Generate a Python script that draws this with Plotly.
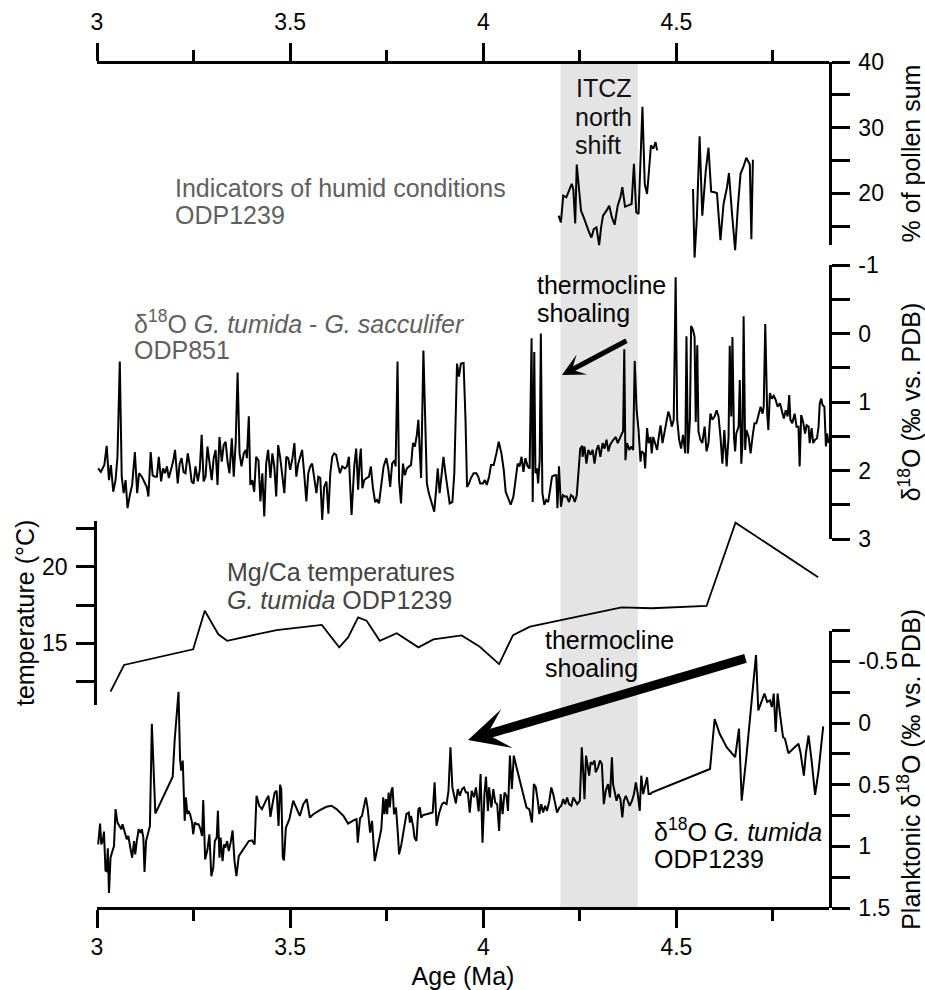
import plotly.graph_objects as go

# ---------------- data ----------------
band = [4.2, 4.4]  # shaded interval (Ma)

pollen_age = [4.195, 4.201, 4.207, 4.215, 4.222, 4.229, 4.233, 4.238, 4.242, 4.247, 4.253, 4.260,
              4.267, 4.274, 4.280, 4.286, 4.293, 4.300, 4.305, 4.310, 4.319, 4.326, 4.333, 4.340,
              4.348, 4.355, 4.360, 4.367, 4.374, 4.384, 4.390, 4.396, 4.402, 4.407, 4.412, 4.418,
              4.424, 4.429, 4.434, 4.440, 4.446, 4.450, None,
              4.543, 4.547, 4.553, 4.560, 4.567, 4.576, 4.583, 4.590, 4.599, 4.605, 4.614, 4.622,
              4.631, 4.636, 4.644, 4.652, 4.659, 4.666, 4.673, 4.681, 4.690, 4.694, 4.698]
pollen_pct = [16.64, 15.62, 19.69, 19.44, 20.45, 21.47, 20.71, 15.47, 24.42, 20.71, 17.40, 16.38,
              15.11, 14.09, 13.33, 14.60, 14.85, 12.16, 14.85, 16.64, 17.40, 18.16, 16.38, 15.26,
              18.16, 19.44, 20.96, 18.01, 18.16, 18.42, 24.52, 17.15, 16.89, 24.01, 33.18, 21.47,
              19.94, 23.51, 27.32, 26.81, 27.83, 26.56, None,
              20.71, 10.27, 16.38, 28.70, 16.64, 23.51, 26.97, 20.30, 20.20, 20.05, 12.92, 18.42,
              20.96, 23.10, 16.89, 11.39, 17.91, 23.00, 24.01, 25.44, 24.42, 13.07, 25.14]

age_851 = [3.003, 3.010, 3.019, 3.025, 3.031, 3.036, 3.042, 3.048, 3.053, 3.059, 3.064, 3.069,
           3.074, 3.079, 3.085, 3.091, 3.098, 3.104, 3.109, 3.116, 3.122, 3.129, 3.133, 3.139,
           3.144, 3.150, 3.155, 3.160, 3.166, 3.171, 3.176, 3.181, 3.186, 3.192, 3.197, 3.202,
           3.209, 3.214, 3.219, 3.224, 3.229, 3.235, 3.240, 3.245, 3.250, 3.255, 3.261, 3.266,
           3.271, 3.276, 3.281, 3.286, 3.292, 3.297, 3.302, 3.307, 3.312, 3.317, 3.323, 3.328,
           3.333, 3.338, 3.343, 3.349, 3.354, 3.359, 3.364, 3.369, 3.374, 3.380, 3.385, 3.388,
           3.393, 3.397, 3.402, 3.407, 3.412, 3.418, 3.423, 3.428, 3.433, 3.438, 3.443, 3.449,
           3.454, 3.459, 3.464, 3.469, 3.474, 3.480, 3.485, 3.490, 3.495, 3.500, 3.506, 3.511,
           3.516, 3.521, 3.526, 3.531, 3.537, 3.542, 3.547, 3.552, 3.557, 3.562, 3.568, 3.573,
           3.578, 3.583, 3.588, 3.594, 3.599, 3.604, 3.609, 3.614, 3.619, 3.625, 3.629,
           3.635, 3.642, 3.647, 3.652, 3.659, 3.666, 3.671, 3.676, 3.680, 3.683, 3.687, 3.692,
           3.698, 3.704, 3.709, 3.714, 3.720, 3.725, 3.730, 3.737, 3.742, 3.749, 3.754, 3.759,
           3.764, 3.770, 3.773, 3.778, 3.782, 3.787, 3.792, 3.797, 3.802, 3.808, 3.813, 3.818,
           3.823, 3.828, 3.832, 3.835, 3.839, 3.845, 3.849, 3.854, 3.859, 3.866, 3.873, 3.878,
           3.882, 3.887, 3.892, 3.897, 3.902, 3.908, 3.913, 3.920, 3.925, 3.932, 3.937, 3.942,
           3.949, 3.954, 3.958, 3.963, 3.968, 3.975, 3.982, 3.987, 3.992, 3.999, 4.004, 4.009,
           4.015, 4.020, 4.027, 4.034, 4.040, 4.047, 4.053, 4.058, 4.065, 4.071, 4.078, 4.084,
           4.089, 4.094, 4.099, 4.104, 4.109, 4.115, 4.120, 4.125, 4.128, 4.132, 4.135, 4.139,
           4.142, 4.146, 4.149, 4.153, 4.158, 4.163, 4.168, 4.173, 4.178, 4.184, 4.189, 4.192,
           4.196, 4.201, 4.206, 4.211, 4.216, 4.222, 4.227, 4.232, 4.237, 4.242, 4.246, 4.251,
           4.256, 4.257, 4.262, 4.267, 4.272, 4.278, 4.283, 4.288, 4.293, 4.298, 4.303, 4.309,
           4.314, 4.319, 4.324, 4.328, 4.333, 4.338, 4.343, 4.348, 4.354, 4.359, 4.362, 4.365,
           4.368, 4.372, 4.378, 4.383, 4.388, 4.392, 4.397, 4.402, 4.407, 4.410, 4.416, 4.419,
           4.424, 4.428, 4.433, 4.436, 4.440, 4.445, 4.450, 4.455, 4.459, 4.464, 4.469, 4.474,
           4.479, 4.483, 4.488, 4.493, 4.498, 4.502, 4.507, 4.512, 4.517, 4.523, 4.526, 4.530,
           4.535, 4.538, 4.543, 4.547, 4.550, 4.554, 4.557, 4.562, 4.567, 4.573, 4.578, 4.583,
           4.588, 4.593, 4.599, 4.604, 4.609, 4.614, 4.619, 4.624, 4.630, 4.635, 4.638, 4.642,
           4.645, 4.649, 4.652, 4.655, 4.661, 4.664, 4.668, 4.671, 4.674, 4.678, 4.681, 4.687,
           4.692, 4.697, 4.702, 4.707, 4.712, 4.718, 4.723, 4.726, 4.730, 4.735, 4.738, 4.742,
           4.747, 4.752, 4.757, 4.762, 4.768, 4.773, 4.778, 4.783, 4.788, 4.792, 4.795, 4.800,
           4.806, 4.811, 4.816, 4.819, 4.823, 4.828, 4.833, 4.837, 4.842, 4.845, 4.850, 4.854,
           4.859, 4.864, 4.868, 4.871, 4.875, 4.878, 4.883, 4.887, 4.890, 4.894]
d18o_851 = [1.97, 2.02, 1.92, 1.64, 2.14, 1.92, 2.31, 2.14, 1.80, 0.41, 2.09, 2.33,
            2.14, 2.55, 2.36, 2.21, 1.73, 2.33, 2.04, 2.09, 2.16, 2.24, 2.38, 1.73,
            2.07, 2.09, 2.09, 1.80, 2.16, 1.97, 2.04, 1.94, 2.11, 1.99, 1.87, 1.70,
            2.19, 1.90, 1.82, 2.02, 2.04, 1.75, 1.92, 2.16, 2.19, 1.94, 2.16, 1.99,
            1.48, 2.16, 2.09, 1.65, 1.90, 2.14, 1.82, 1.70, 2.21, 1.51, 1.87, 1.63,
            1.58, 1.87, 2.04, 1.53, 2.09, 1.60, 0.57, 1.75, 1.94, 1.75, 1.70, 1.82,
            1.21, 2.21, 2.14, 2.31, 1.80, 1.85, 2.45, 2.04, 2.67, 1.90, 1.70, 2.11,
            1.75, 1.94, 2.38, 1.63, 1.80, 2.11, 2.33, 1.80, 1.82, 1.99, 1.82, 1.60,
            2.09, 1.90, 1.80, 1.70, 2.09, 2.45, 2.04, 1.94, 1.90, 2.09, 2.33, 2.09,
            2.11, 2.72, 2.24, 2.16, 2.63, 2.04, 1.80, 1.75, 1.77, 1.94, 2.04,
            1.94, 1.97, 1.94, 1.80, 2.65, 1.94, 1.68, 2.28, 1.85, 1.68, 2.26, 2.14,
            2.11, 2.09, 1.94, 2.24, 2.46, 2.43, 2.48, 2.14, 1.94, 1.82, 1.97, 2.24,
            1.90, 1.85, 1.94, 0.41, 2.14, 2.48, 1.90, 2.07, 1.97, 1.94, 1.92, 1.60,
            1.65, 1.48, 1.26, 1.65, 2.11, 0.25, 1.26, 2.19, 2.33, 2.48, 2.60, 2.28,
            1.97, 2.33, 2.09, 1.80, 2.04, 2.33, 2.48, 2.46, 2.04, 0.44, 0.63, 0.44,
            0.43, 1.26, 2.24, 2.19, 2.11, 2.04, 2.04, 2.09, 2.19, 2.19, 2.14, 2.21,
            2.09, 1.92, 1.92, 1.75, 1.58, 1.75, 1.99, 2.31, 2.43, 2.50, 2.38, 2.09,
            1.90, 1.94, 1.80, 2.02, 1.82, 1.94, 1.97, 0.07, 2.46, 0.27, 2.04, 1.97,
            2.19, 1.85, 0.00, 2.33, 2.50, 2.43, 2.46, 2.28, 2.09, 2.07, 2.07, 2.55,
            1.94, 2.53, 2.36, 2.38, 2.38, 2.46, 2.36, 2.38, 2.46, 2.36, 2.04, 1.68,
            1.64, 1.80, 1.65, 1.90, 1.70, 1.77, 1.70, 1.90, 1.70, 1.63, 1.80, 1.60,
            1.68, 1.55, 1.72, 1.63, 1.58, 1.55, 1.51, 1.60, 1.51, 1.46, 1.43, 0.23,
            1.85, 1.60, 1.70, 1.65, 1.70, 0.40, 1.12, 1.41, 1.87, 1.72, 1.75, 1.97,
            1.38, 1.60, 1.51, 1.75, 1.51, 1.60, 1.70, 1.48, 1.34, 1.60, 1.46, 1.31,
            1.14, 1.21, 1.36, 1.26, -0.82, 1.26, 1.55, 1.68, 1.48, 1.75, 0.04, 1.75,
            1.26, -0.11, -0.05, 0.05, 1.29, 0.17, 1.43, 1.55, 1.60, 1.36, 1.72, 1.60,
            1.17, 1.26, 1.21, 1.12, 1.21, 1.51, 1.90, 1.41, 1.94, 1.51, 0.18, 1.21,
            0.05, 1.51, 1.72, 1.46, 1.36, 0.68, 1.90, 1.60, -0.25, 1.70, 1.41, 1.51,
            1.75, 1.51, 1.31, 1.31, 1.21, 1.07, 1.17, 1.07, -0.14, 1.17, 1.41, 0.87,
            0.95, 0.91, 0.97, 1.07, 1.02, 1.12, 1.24, 1.12, 1.21, 0.90, 1.26, 1.31,
            1.17, 1.36, 1.36, 1.94, 1.19, 1.29, 1.46, 1.34, 1.36, 1.60, 1.38, 1.60,
            1.55, 1.53, 1.36, 1.02, 0.95, 1.04, 1.07, 1.65, 1.46, 1.60]

age_mgca = [3.035, 3.070, 3.249, 3.279, 3.314, 3.337, 3.465, 3.582, 3.627, 3.650, 3.676, 3.698,
            3.732, 3.776, 3.832, 3.871, 3.944, 3.991, 4.041, 4.077, 4.121, 4.358, 4.436, 4.578,
            4.653, 4.867]
temp_mgca = [11.85, 13.59, 14.61, 17.13, 15.59, 15.17, 15.87, 16.20, 14.74, 15.39, 16.70, 16.48,
             15.17, 15.66, 14.74, 15.26, 15.52, 14.78, 13.65, 15.54, 16.09, 17.35, 17.29, 17.44,
             22.87, 19.31]

age_1239 = [3.003, 3.008, 3.011, 3.015, 3.018, 3.022, 3.025, 3.028, 3.031, 3.035, 3.040, 3.044,
            3.048, 3.053, 3.058, 3.063, 3.066, 3.072, 3.077, 3.081, 3.085, 3.091, 3.096, 3.099,
            3.103, 3.108, 3.113, 3.116, 3.120, 3.123, 3.127, 3.132, 3.137, 3.142, 3.151, 3.196,
            3.201, 3.211, 3.215, 3.218, 3.222, 3.227, 3.230, 3.234, 3.237, 3.241, 3.246, 3.249,
            3.253, 3.258, 3.263, 3.268, 3.272, 3.275, 3.280, 3.286, 3.291, 3.296, 3.301, 3.305,
            3.310, 3.313, 3.317, 3.320, 3.325, 3.329, 3.332, 3.337, 3.341, 3.346, 3.351, 3.356,
            3.361, 3.367, 3.375, 3.384, 3.393, 3.401, 3.408, 3.413, 3.420, 3.427, 3.434, 3.439,
            3.444, 3.449, 3.455, 3.460, 3.465, 3.470, 3.474, 3.477, 3.481, 3.484, 3.489, 3.498,
            3.508, 3.517, 3.525, 3.534, 3.543, 3.551, 3.560, 3.577, 3.594, 3.607, 3.620, 3.638,
            3.650, 3.665, 3.672, 3.675, 3.681, 3.686, 3.691, 3.696, 3.701, 3.707, 3.712, 3.719,
            3.727, 3.736, 3.741, 3.744, 3.748, 3.751, 3.755, 3.758, 3.762, 3.765, 3.769, 3.774,
            3.779, 3.782, 3.788, 3.793, 3.798, 3.801, 3.807, 3.810, 3.813, 3.819, 3.822, 3.827,
            3.832, 3.836, 3.839, 3.845, 3.853, 3.862, 3.869, 3.874, 3.879, 3.886, 3.893, 3.898,
            3.905, 3.910, 3.915, 3.920, 3.926, 3.929, 3.934, 3.939, 3.945, 3.950, 3.955, 3.960,
            3.965, 3.970, 3.976, 3.981, 3.988, 3.993, 3.998, 4.003, 4.007, 4.012, 4.015, 4.021,
            4.026, 4.031, 4.036, 4.041, 4.045, 4.050, 4.055, 4.060, 4.064, 4.069, 4.074, 4.079,
            4.086, 4.095, 4.103, 4.112, 4.119, 4.126, 4.131, 4.136, 4.141, 4.145, 4.150, 4.155,
            4.160, 4.165, 4.171, 4.176, 4.181, 4.186, 4.191, 4.197, 4.202, 4.207, 4.212, 4.217,
            4.222, 4.228, 4.233, 4.238, 4.243, 4.250, 4.255, 4.259, 4.262, 4.266, 4.271, 4.274,
            4.278, 4.283, 4.288, 4.291, 4.297, 4.302, 4.307, 4.312, 4.317, 4.323, 4.328, 4.333,
            4.336, 4.342, 4.345, 4.350, 4.355, 4.360, 4.364, 4.369, 4.374, 4.379, 4.385, 4.390,
            4.395, 4.400, 4.405, 4.409, 4.414, 4.419, 4.424, 4.428, 4.433, 4.436, 4.587, 4.599,
            4.612, 4.630, 4.652, 4.662, 4.669, 4.681, 4.693, 4.706, 4.712, 4.719, 4.728, 4.735,
            4.742, 4.747, 4.752, 4.757, 4.762, 4.768, 4.776, 4.781, 4.790, 4.802, 4.816, 4.821,
            4.830, 4.835, 4.842, 4.850, 4.859, 4.868, 4.873, 4.880]
d18o_1239 = [0.984, 0.815, 0.984, 0.957, 0.880, 1.196, 1.201, 1.016, 1.378, 1.092, 1.038, 0.997,
             0.698, 0.807, 0.834, 0.861, 0.821, 0.889, 0.943, 0.916, 0.984, 1.092, 0.957, 1.065,
             0.957, 0.861, 0.889, 0.861, 0.929, 1.207, 0.957, 0.889, 0.834, 0.005, 0.734, 0.435,
             0.141, -0.253, 0.291, 0.386, 0.304, 0.793, 0.603, 0.739, 0.712, 0.739, 0.807, 0.902,
             0.807, 0.821, 0.821, 0.861, 0.916, 0.625, 1.106, 1.024, 0.902, 1.242, 1.174, 0.957,
             0.929, 0.712, 1.092, 0.929, 1.120, 0.984, 1.011, 0.957, 1.038, 0.970, 0.870, 1.120,
             1.242, 1.079, 1.038, 0.997, 0.957, 0.951, 0.984, 0.590, 0.671, 0.698, 0.644, 0.617,
             0.590, 0.761, 0.644, 0.563, 0.549, 0.834, 0.500, 0.535, 1.092, 1.114, 0.848, 0.780,
             0.630, 0.698, 0.753, 0.658, 0.617, 0.766, 0.739, 0.707, 0.679, 0.671, 0.698, 0.753,
             0.815, 0.788, 0.780, 0.970, 0.772, 0.753, 0.663, 0.603, 0.698, 0.889, 0.793, 1.120,
             0.997, 0.861, 0.603, 0.739, 0.617, 0.739, 0.563, 0.685, 0.549, 0.522, 0.739, 0.685,
             0.902, 1.065, 0.984, 0.889, 0.821, 0.739, 0.726, 0.807, 0.753, 0.848, 0.929, 0.957,
             0.698, 0.685, 0.766, 0.745, 0.739, 0.734, 0.726, 0.481, 0.834, 0.726, 0.658, 0.644,
             0.658, 0.549, 0.196, 0.522, 0.630, 0.652, 0.535, 0.590, 0.535, 0.522, 0.563, 0.563,
             0.726, 0.549, 0.603, 0.522, 0.717, 0.413, 0.970, 0.576, 0.435, 0.712, 0.522, 0.685,
             0.535, 0.644, 0.658, 0.875, 0.576, 0.739, 0.563, 0.590, 0.712, 0.264, 0.535, 0.264,
             0.359, 0.467, 0.576, 0.685, 0.698, 0.807, 0.495, 0.522, 0.630, 0.739, 0.658, 0.726,
             0.671, 0.712, 0.630, 0.522, 0.576, 0.658, 0.726, 0.685, 0.671, 0.617, 0.658, 0.603,
             0.658, 0.671, 0.603, 0.630, 0.658, 0.630, 0.196, 0.413, 0.617, 0.264, 0.359, 0.427,
             0.318, 0.332, 0.304, 0.399, 0.359, 0.304, 0.332, 0.658, 0.549, 0.495, 0.603, 0.277,
             0.495, 0.603, 0.630, 0.576, 0.617, 0.766, 0.630, 0.590, 0.630, 0.671, 0.630, 0.576,
             0.481, 0.576, 0.712, 0.427, 0.576, 0.495, 0.440, 0.576, 0.576, 0.563, 0.372, -0.033,
             0.087, 0.196, 0.277, 0.046, 0.630, 0.277, -0.130, -0.552, -0.103, -0.171, -0.239, -0.171,
             -0.185, -0.130, -0.239, 0.073, -0.239, -0.076, 0.114, 0.128, 0.245, 0.209, 0.168, 0.236,
             0.427, 0.250, 0.101, 0.304, 0.582, 0.386, 0.223, 0.027]

age_ticks = [3, 3.5, 4, 4.5]
age_ticktext = ["3", "3.5", "4", "4.5"]
age_minor = [3.25, 3.75, 4.25, 4.75]
age_range = [3, 4.895]

pollen_ticks = [15, 20, 25, 30, 35, 40]
pollen_ticktext = ["", "20", "", "30", "", "40"]
d851_ticks = [-1, -0.5, 0, 0.5, 1, 1.5, 2, 2.5, 3]
d851_ticktext = ["-1", "", "0", "", "1", "", "2", "", "3"]
temp_ticks = [12.5, 15, 17.5, 20, 22.5]
temp_ticktext = ["", "15", "", "20", ""]
d1239_ticks = [-0.75, -0.5, -0.25, 0, 0.25, 0.5, 0.75, 1, 1.25, 1.5]
d1239_ticktext = ["", "-0.5", "", "0", "", "0.5", "", "1", "", "1.5"]

# ---------------- geometry ----------------
W, H = 925, 990
ML, MR, MT, MB = 97, 96, 62, 82
PW, PH = W - ML - MR, H - MT - MB


def fx(px):
    return (px - ML) / PW


def fy(py):
    return (MT + PH - py) / PH


FONT = "Arial"
GRAY = "#5f5f5f"
LW = 2.5

axis_common = dict(showline=True, linecolor="black", linewidth=LW, ticks="outside", ticklen=18,
                   tickwidth=LW, tickcolor="black", showgrid=False, zeroline=False,
                   tickfont=dict(family=FONT, size=23, color="black"), fixedrange=True,
                   tickmode="array")

fig = go.Figure()
line = dict(color="black", width=2)

# transparent copies that make the visible pollen axis and the top age axis exist
fig.add_trace(go.Scatter(x=pollen_age, y=pollen_pct, xaxis="x", yaxis="y", mode="lines",
                         line=dict(color="rgba(0,0,0,0)", width=1), hoverinfo="skip",
                         showlegend=False))
fig.add_trace(go.Scatter(x=pollen_age, y=pollen_pct, xaxis="x2", yaxis="y", mode="lines",
                         line=dict(color="rgba(0,0,0,0)", width=1), hoverinfo="skip",
                         showlegend=False))
# visible series
fig.add_trace(go.Scatter(x=pollen_age, y=pollen_pct, xaxis="x", yaxis="y5", mode="lines",
                         line=line, connectgaps=False, showlegend=False))
fig.add_trace(go.Scatter(x=age_851, y=d18o_851, xaxis="x", yaxis="y2", mode="lines",
                         line=line, showlegend=False))
fig.add_trace(go.Scatter(x=age_mgca, y=temp_mgca, xaxis="x", yaxis="y3", mode="lines",
                         line=dict(color="black", width=1.8), showlegend=False))
fig.add_trace(go.Scatter(x=age_1239, y=d18o_1239, xaxis="x", yaxis="y4", mode="lines",
                         line=line, showlegend=False))

xcommon = dict(axis_common, range=age_range, tickvals=age_ticks, ticktext=age_ticktext,
               minor=dict(tickvals=age_minor, ticklen=11, tickwidth=LW, tickcolor="black",
                          ticks="outside", showgrid=False))

title_font = dict(family=FONT, size=25, color="black")

fig.update_layout(
    width=W, height=H,
    margin=dict(l=ML, r=MR, t=MT, b=MB, autoexpand=False),
    paper_bgcolor="white", plot_bgcolor="rgba(0,0,0,0)",
    template="none",
    font=dict(family=FONT, color="black"),
    showlegend=False,
    xaxis=dict(xcommon, domain=[0, 1], anchor="free", position=0, side="bottom",
               ticklabelstandoff=0,
               title=dict(text="Age (Ma)", font=title_font, standoff=14)),
    xaxis2=dict(xcommon, domain=[0, 1], anchor="free", position=1, side="top",
                overlaying="x", matches="x", ticklabelstandoff=4),
    yaxis=dict(axis_common, domain=[fy(245), 1], range=[12.14, 40], anchor="x", side="right",
               tickvals=pollen_ticks, ticktext=pollen_ticktext, ticklabelstandoff=4,
               title=dict(text="% of pollen sum", font=title_font, standoff=24)),
    yaxis5=dict(domain=[fy(262), 1], range=[9.60, 40], anchor="x", visible=False,
                fixedrange=True),
    yaxis2=dict(axis_common, domain=[fy(539), fy(265)], range=[3, -1], anchor="x", side="right",
                tickvals=d851_ticks, ticktext=d851_ticktext, ticklabelstandoff=4,
                title=dict(text="δ<sup>18</sup>O (‰ vs. PDB)", font=title_font, standoff=28)),
    yaxis3=dict(axis_common, domain=[fy(705), fy(520.7)], range=[10.98, 23.0], anchor="x",
                side="left", tickvals=temp_ticks, ticktext=temp_ticktext, ticklabelstandoff=4,
                title=dict(text="temperature (°C)", font=title_font, standoff=1)),
    yaxis4=dict(axis_common, domain=[0, fy(630.6)], range=[1.5, -0.75], anchor="x", side="right",
                tickvals=d1239_ticks, ticktext=d1239_ticktext, ticklabelstandoff=4,
                title=dict(text="Planktonic δ<sup>18</sup>O (‰ vs. PDB)", font=title_font,
                           standoff=10)),
    shapes=[dict(type="rect", xref="x", yref="paper", x0=band[0], x1=band[1], y0=0, y1=1,
                 fillcolor="#e4e4e4", line=dict(width=0), layer="below")],
)

# ---------------- text labels ----------------
labels = [
    ("Indicators of humid conditions", 173, 188, GRAY),
    ("ODP1239", 173, 215, GRAY),
    ("ITCZ", 574, 88, "#111111"),
    ("north", 573, 117, "#111111"),
    ("shift", 573, 145, "#111111"),
    ("δ<sup>18</sup>O <i>G. tumida</i> - <i>G. sacculifer</i>", 132, 322, GRAY),
    ("ODP851", 132, 350, GRAY),
    ("thermocline", 535, 285, "black"),
    ("shoaling", 535, 313, "black"),
    ("Mg/Ca temperatures", 225, 572, "#444444"),
    ("<i>G. tumida</i> ODP1239", 225, 600, "#444444"),
    ("thermocline", 543, 640, "black"),
    ("shoaling", 543, 668, "black"),
    ("δ<sup>18</sup>O <i>G. tumida</i>", 652, 830, "black"),
    ("ODP1239", 652, 859, "black"),
]
for txt, lx, cy, col in labels:
    fig.add_annotation(text=txt, xref="paper", yref="paper", x=fx(lx), y=fy(cy),
                       xanchor="left", yanchor="middle", showarrow=False,
                       font=dict(family=FONT, size=25, color=col))

# arrows (head, tail in page pixels)
arrows = [((562, 375), (628, 340), 5, 0.75), ((468, 740), (747, 658), 9, 0.75)]
for (hx, hy), (tx, ty), w, s in arrows:
    fig.add_annotation(text="", xref="paper", yref="paper", x=fx(hx), y=fy(hy),
                       ax=tx - hx, ay=ty - hy, showarrow=True, arrowhead=3, arrowwidth=w,
                       arrowsize=s, arrowcolor="black", standoff=0)

fig.write_html("out.html")
